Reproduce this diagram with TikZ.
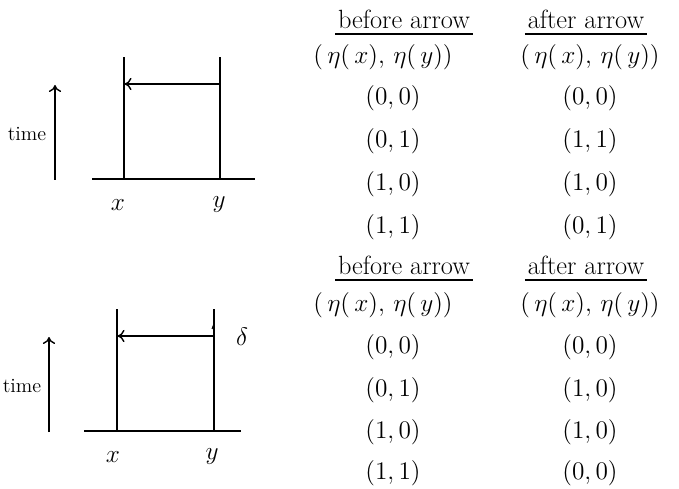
\documentclass[tikz,border=0pt]{standalone}
\usepackage{amsmath}
\usepackage{tikz}
\usetikzlibrary{arrows.meta, positioning}

\begin{document}
\begin{tikzpicture}[
  x=0.02cm, y=-0.02cm,
  wline/.style={line width=1.1pt, color=black},
  arr/.style={-{To[length=4pt, width=7pt]}, line width=0.8pt, color=black},
  lbl/.style={font=\fontsize{15}{18}\selectfont, inner sep=0pt},
  timelbl/.style={font=\fontsize{11.5}{13}\selectfont, inner sep=0pt},
  head/.style={font=\fontsize{15}{18}\selectfont, inner xsep=1.5pt, inner ysep=3pt},
  uline/.style={line width=1pt}
]
\useasboundingbox (0,0) rectangle (679,489);

% Upper space-time picture
\coordinate (xtop1) at (124,57);
\coordinate (xbot1) at (124,179);
\coordinate (ytop1) at (220,57);
\coordinate (ybot1) at (220,179);
\coordinate (axl1) at (92,179);
\coordinate (axr1) at (255,179);
\coordinate (snd1) at (220,84);
\coordinate (rcv1) at (124.5,84);
\coordinate (tlo1) at (55,180);
\coordinate (thi1) at (55,85);
\node[timelbl] (time1) at (27,134) {time};
\node[lbl] (x1) at (118,205) {$x$};
\node[lbl] (y1) at (219,205) {$y$};

\draw[wline] (axl1) -- (axr1);
\draw[wline] (xbot1) -- (xtop1);
\draw[wline] (ybot1) -- (ytop1);
\draw[arr] (snd1) -- (rcv1);
\draw[arr] (tlo1) -- (thi1);

% Upper table
\node[head] (hb1) at (404,19) {before arrow};
\node[head] (ha1) at (586,19) {after arrow};
\draw[uline] (hb1.south west) -- (hb1.south east);
\draw[uline] (ha1.south west) -- (ha1.south east);
\node[lbl] (eb1) at (383,57) {$(\,\eta(\,x),\,\eta(\,y))$};
\node[lbl] (ea1) at (590,57) {$(\,\eta(\,x),\,\eta(\,y))$};
\node[lbl] (b1r1) at (393,98) {$(0,0)$};
\node[lbl] (b1r2) at (393,141) {$(0,1)$};
\node[lbl] (b1r3) at (393,184) {$(1,0)$};
\node[lbl] (b1r4) at (393,227) {$(1,1)$};
\node[lbl] (a1r1) at (590,98) {$(0,0)$};
\node[lbl] (a1r2) at (590,141) {$(1,1)$};
\node[lbl] (a1r3) at (590,184) {$(1,0)$};
\node[lbl] (a1r4) at (590,227) {$(0,1)$};

% Lower space-time picture
\coordinate (xtop2) at (117,309);
\coordinate (xbot2) at (117,431);
\coordinate (ytop2) at (214,309);
\coordinate (ybot2) at (214,431);
\coordinate (axl2) at (84,431);
\coordinate (axr2) at (241,431);
\coordinate (snd2) at (214,336);
\coordinate (rcv2) at (117.5,336);
\coordinate (tlo2) at (49,432);
\coordinate (thi2) at (49,337);
\node[timelbl] (time2) at (22,386) {time};
\node[lbl] (x2) at (113,457) {$x$};
\node[lbl] (y2) at (212,457) {$y$};
\node[lbl] (delta) at (242,337) {$\delta$};

\draw[wline] (axl2) -- (axr2);
\draw[wline] (xbot2) -- (xtop2);
\draw[wline] (ybot2) -- (ytop2);
\draw[arr] (snd2) -- (rcv2);
\draw[arr] (tlo2) -- (thi2);
\draw[line width=0.6pt] (213.5,325) -- (212,329);

% Lower table
\node[head] (hb2) at (404,265) {before arrow};
\node[head] (ha2) at (586,265) {after arrow};
\draw[uline] (hb2.south west) -- (hb2.south east);
\draw[uline] (ha2.south west) -- (ha2.south east);
\node[lbl] (eb2) at (383,305) {$(\,\eta(\,x),\,\eta(\,y))$};
\node[lbl] (ea2) at (590,305) {$(\,\eta(\,x),\,\eta(\,y))$};
\node[lbl] (b2r1) at (393,347) {$(0,0)$};
\node[lbl] (b2r2) at (393,390) {$(0,1)$};
\node[lbl] (b2r3) at (393,432) {$(1,0)$};
\node[lbl] (b2r4) at (393,473) {$(1,1)$};
\node[lbl] (a2r1) at (590,347) {$(0,0)$};
\node[lbl] (a2r2) at (590,390) {$(1,0)$};
\node[lbl] (a2r3) at (590,432) {$(1,0)$};
\node[lbl] (a2r4) at (590,473) {$(0,0)$};

\end{tikzpicture}
\end{document}
